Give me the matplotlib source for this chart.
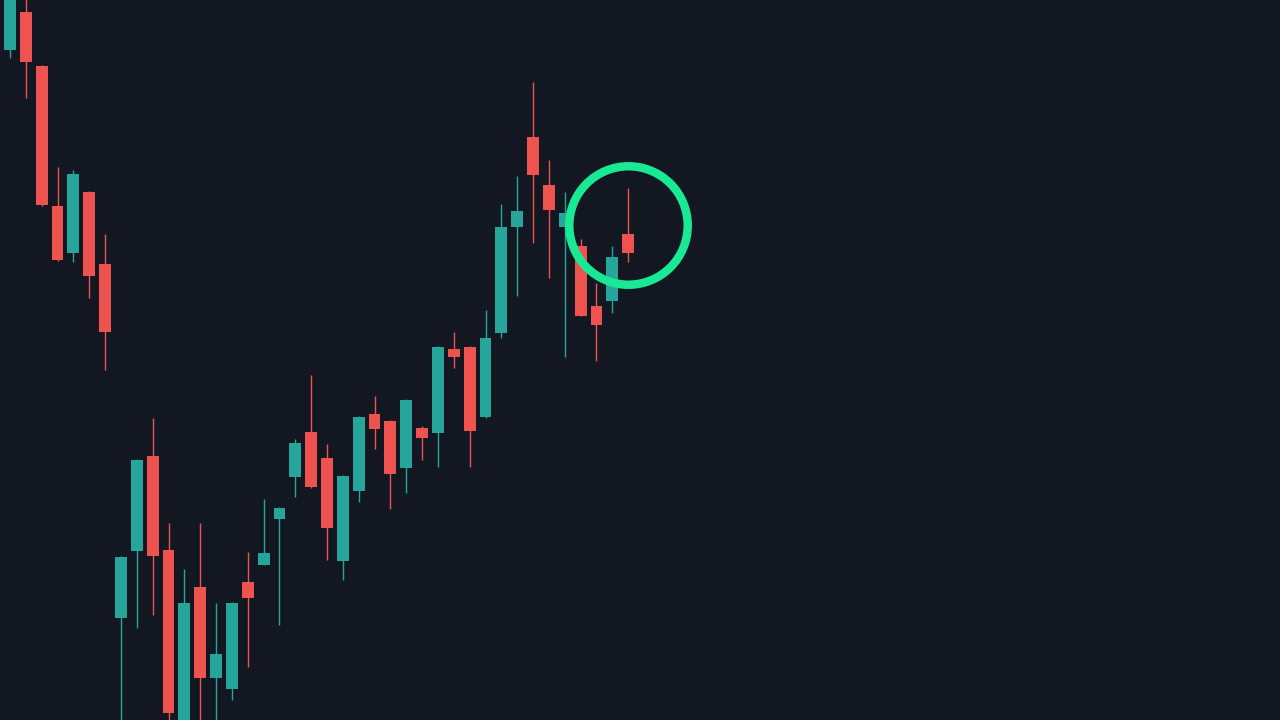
import matplotlib
matplotlib.use("Agg")
import matplotlib.pyplot as plt
import numpy as np

# OHLC values (arbitrary price units);
# the first candle is only a sliver at the left edge
opens = [693, 670, 708, 654, 514, 467, 528, 456, 102, 169, 264,
         170, -20, 133, 42, 31, 138, 155, 201, 243, 288,
         262, 159, 229, 306, 299, 252, 292, 287, 371, 373,
         303, 387, 493, 583, 535, 493, 474, 414, 419, 486]
highs = [720, 760, 730, 655, 553, 550, 529, 486, 164, 261, 302,
         197, 151, 197, 117, 118, 168, 221, 213, 281, 345,
         276, 245, 304, 324, 300, 321, 294, 374, 388, 374,
         410, 516, 544, 638, 560, 528, 481, 437, 474, 532]
lows = [690, 662, 622, 514, 459, 458, 422, 350, -40, 92, 105,
        -20, -40, -40, -30, 20, 53, 155, 95, 223, 232,
        160, 140, 218, 271, 211, 227, 260, 253, 352, 253,
        302, 382, 424, 477, 442, 363, 404, 359, 407, 458]
closes = [712, 750, 658, 515, 460, 546, 444, 388, 163, 260, 164,
          7, 117, 42, 66, 117, 122, 167, 212, 277, 233,
          192, 244, 303, 291, 246, 320, 282, 373, 363, 289,
          382, 493, 509, 545, 510, 507, 404, 395, 463, 467]

BG = "#131722"
UP = "#26a69a"
DOWN = "#ef5350"
RING = "#19e894"

fig = plt.figure(figsize=(12.8, 7.2), dpi=100, facecolor=BG)
ax = fig.add_axes([0, 0, 1, 1])
ax.set_facecolor(BG)

x = np.arange(len(opens))
o = np.array(opens)
c = np.array(closes)
colors = [UP if cc >= oo else DOWN for oo, cc in zip(o, c)]

# wicks then bodies
ax.vlines(x, lows, highs, colors=colors, linewidth=1, zorder=2)
ax.bar(x, np.maximum(np.abs(c - o), 1), bottom=np.minimum(o, c), width=0.75,
       color=colors, linewidth=0, zorder=3)

# highlight ring around the last candle
last = len(opens) - 1
ax.plot(last, (highs[last] + lows[last]) / 2, marker="o", markersize=85.3,
        markerfacecolor="none", markeredgecolor=RING, markeredgewidth=6.1, zorder=4)

step = 15.85
xmin = 1 - 10 / step
ax.set_xlim(xmin, xmin + 1280 / step)
ax.set_ylim(0, 720)
ax.axis("off")

fig.savefig("out.png", dpi=100, facecolor=BG)
